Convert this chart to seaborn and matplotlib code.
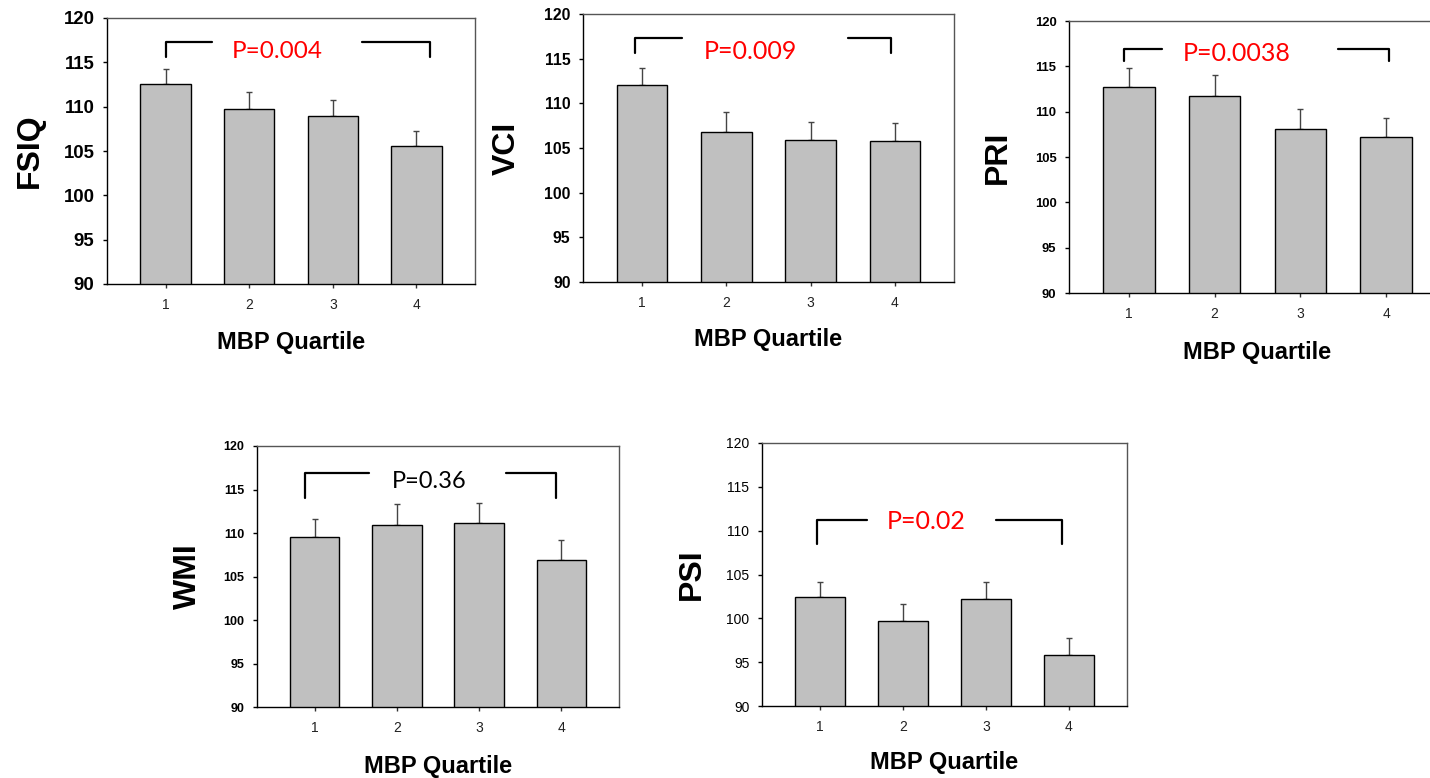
import numpy as np
import pandas as pd
import matplotlib
matplotlib.use("Agg")
import matplotlib.pyplot as plt
import seaborn as sns

# ---- data ----
quartiles = ["1", "2", "3", "4"]
fsiq_mean = [112.6, 109.7, 109.0, 105.6]
fsiq_sem = [1.7, 1.9, 1.8, 1.7]
vci_mean = [112.1, 106.8, 105.9, 105.8]
vci_sem = [1.9, 2.2, 2.0, 2.0]
pri_mean = [112.75, 111.7, 108.1, 107.2]
pri_sem = [2.05, 2.3, 2.2, 2.1]
wmi_mean = [109.5, 110.9, 111.2, 106.95]
wmi_sem = [2.1, 2.45, 2.3, 2.25]
psi_mean = [102.45, 99.65, 102.25, 95.85]
psi_sem = [1.7, 2.0, 1.85, 1.85]
p_labels = ["P=0.004", "P=0.009", "P=0.0038", "P=0.36", "P=0.02"]
y_names = ["FSIQ", "VCI", "PRI", "WMI", "PSI"]
y_ticks = [90, 95, 100, 105, 110, 115, 120]

sns.set_theme(style="white")
plt.rcParams['font.family'] = ['Liberation Sans', 'DejaVu Sans']

W, H = 1430, 778
fig = plt.figure(figsize=(W / 100, H / 100), dpi=100)

panels = [
    dict(box=(107, 475, 18, 284), mean=fsiq_mean, sem=fsiq_sem, yts=13.4, ytw="bold",
         ylx=30, xly=342, br=(0.0, 0.56, 2.35, 3.16, 117.3, 115.6), tx=(1.33, 116.2), col="red", tsz=17.5),
    dict(box=(583, 954, 14, 282), mean=vci_mean, sem=vci_sem, yts=11.4, ytw="bold",
         ylx=507, xly=340, br=(-0.08, 0.47, 2.44, 2.95, 117.35, 115.6), tx=(1.28, 115.8), col="red", tsz=18),
    dict(box=(1069, 1446, 21, 293), mean=pri_mean, sem=pri_sem, yts=9.4, ytw="bold",
         ylx=998, xly=352, br=(-0.06, 0.39, 2.44, 3.03, 116.9, 115.6), tx=(1.26, 116.4), col="red", tsz=18),
    dict(box=(257, 619, 446, 707), mean=wmi_mean, sem=wmi_sem, yts=9, ytw="bold",
         ylx=188, xly=767, br=(-0.12, 0.66, 2.33, 2.94, 116.9, 114.0), tx=(1.39, 115.9), col="black", tsz=17),
    dict(box=(762, 1127, 443, 706), mean=psi_mean, sem=psi_sem, yts=10, ytw="normal",
         ylx=692, xly=763, br=(-0.04, 0.56, 2.12, 2.92, 111.27, 108.46), tx=(1.28, 111.0), col="red", tsz=18),
]

for i, p in enumerate(panels):
    l, r, t, b = p["box"]
    ax = fig.add_axes([l / W, 1 - b / H, (r - l) / W, (b - t) / H])
    df = pd.DataFrame({"quartile": quartiles, "value": p["mean"]})
    sns.barplot(data=df, x="quartile", y="value", color="#c0c0c0", saturation=1,
                edgecolor="black", linewidth=1.0, width=0.6, errorbar=None, ax=ax, zorder=2)
    xs = np.arange(len(quartiles))
    ax.errorbar(xs, p["mean"], yerr=[np.zeros(len(xs)), p["sem"]], fmt="none",
                ecolor="#444444", elinewidth=1.0, capsize=2.5, capthick=1.0, zorder=1)
    ax.set_xlim(-0.70, 3.70)
    ax.set_ylim(90, 120)
    ax.set_yticks(y_ticks)
    ax.set_yticklabels([str(v) for v in y_ticks], fontsize=p["yts"], fontweight=p["ytw"], color="black")
    ax.tick_params(axis="y", direction="out", length=3, width=1, color="black", pad=6, left=True)
    ax.tick_params(axis="x", direction="out", length=3, width=1, color="#333333", pad=7,
                   labelsize=10, labelcolor="#222222", bottom=True)
    for s in ["left", "bottom"]:
        ax.spines[s].set_color("black")
        ax.spines[s].set_linewidth(1.0)
    for s in ["top", "right"]:
        ax.spines[s].set_color("#555555")
        ax.spines[s].set_linewidth(1.0)
    ax.set_ylabel(y_names[i], fontsize=23, fontweight="bold", color="black")
    ax.yaxis.label.set_va("center")
    ax.yaxis.set_label_coords((p["ylx"] - l) / (r - l), 0.5)
    ax.set_xlabel("MBP Quartile", fontsize=17, fontweight="bold", color="black")
    ax.xaxis.label.set_va("center")
    ax.xaxis.set_label_coords(0.5, (b - p["xly"]) / (b - t))
    # bracket
    xl, xle, xrs, xr, yt, yb = p["br"]
    ax.plot([xl, xl, xle], [yb, yt, yt], color="black", lw=1.6, solid_joinstyle="round", zorder=3)
    ax.plot([xrs, xr, xr], [yt, yt, yb], color="black", lw=1.6, solid_joinstyle="round", zorder=3)
    ax.text(p["tx"][0], p["tx"][1], p_labels[i], color=p["col"], fontsize=p["tsz"],
            family=["Lato", "DejaVu Sans"], ha="center", va="center", zorder=4)

fig.savefig("out.png", dpi=100)
